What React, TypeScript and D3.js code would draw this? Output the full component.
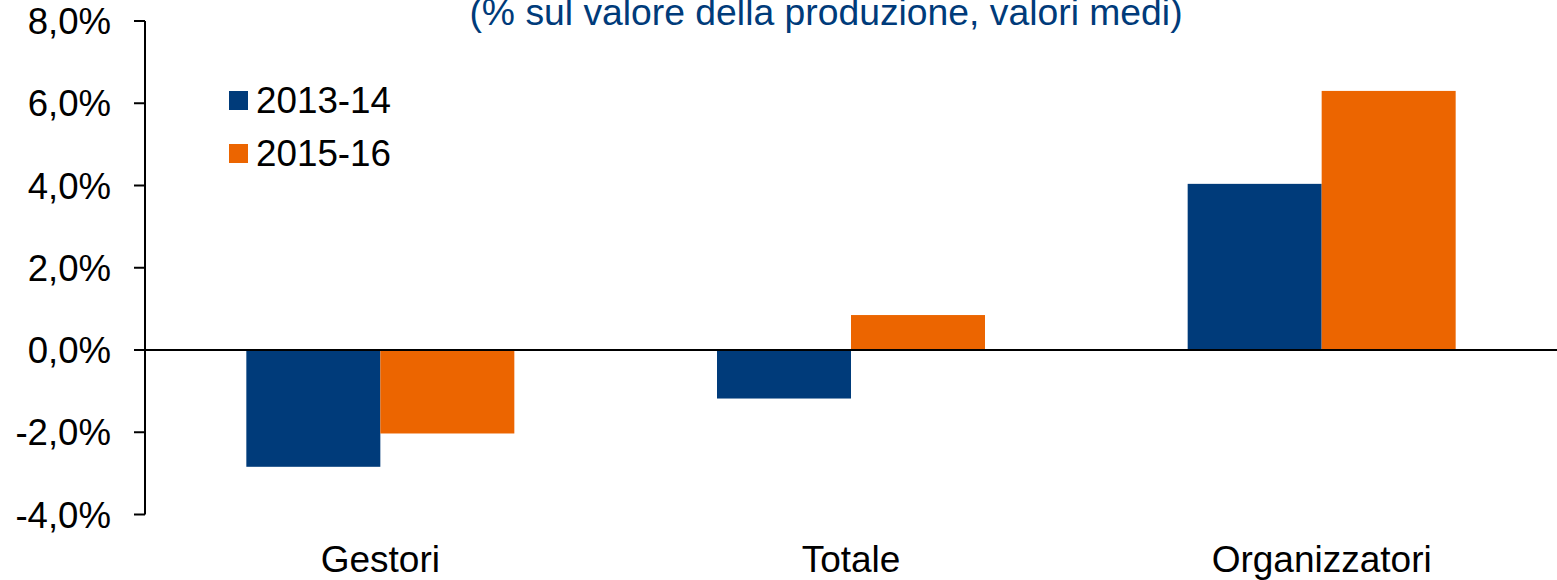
import React from 'react';
import * as d3 from 'd3';

const categories = ['Gestori', 'Totale', 'Organizzatori'];
const seriesNames = ['2013-14', '2015-16'];
const values2013 = [-2.84, -1.18, 4.04];
const values2015 = [-2.03, 0.85, 6.3];
const yTicks = [-4, -2, 0, 2, 4, 6, 8];
const colors = ['#003B7A', '#EC6500'];
const title = '(% sul valore della produzione, valori medi)';

const W = 1557;
const H = 580;
const FONT = '"Liberation Sans", Arial, sans-serif';

const App: React.FC = () => {
  const left = 145;
  const y = d3.scaleLinear().domain([-4, 8]).range([514.5, 21]);
  const x0 = d3
    .scaleBand<string>()
    .domain(categories)
    .range([left, W])
    .paddingInner(0.4306)
    .paddingOuter(0.2153);
  const x1 = d3.scaleBand<string>().domain(seriesNames).range([0, x0.bandwidth()]);
  const series = [values2013, values2015];
  const fmt = (v: number) => d3.format('.1f')(v).replace('.', ',').replace('−', '-') + '%';

  return (
    <svg
      width={W}
      height={H}
      style={{ position: 'absolute', left: 0, top: 0, background: '#fff' }}
      fontFamily={FONT}
    >
      <text x={826} y={25} textAnchor="middle" fontSize={37.3} fill="#003B7A">
        {title}
      </text>

      {/* bars */}
      {categories.map((c, ci) =>
        seriesNames.map((s, si) => {
          const v = series[si][ci];
          return (
            <rect
              key={c + s}
              x={(x0(c) ?? 0) + (x1(s) ?? 0)}
              y={y(Math.max(0, v))}
              width={x1.bandwidth()}
              height={Math.abs(y(v) - y(0))}
              fill={colors[si]}
            />
          );
        })
      )}

      {/* y axis */}
      <line x1={left} x2={left} y1={y(8)} y2={y(-4)} stroke="#000" strokeWidth={2} />
      {yTicks.map((t) => (
        <g key={t}>
          <line x1={left - 11} x2={left} y1={y(t)} y2={y(t)} stroke="#000" strokeWidth={2} />
          <text x={111} y={y(t) + 13} textAnchor="end" fontSize={36.6} fill="#000">
            {fmt(t)}
          </text>
        </g>
      ))}
      <line x1={left} x2={W} y1={y(0)} y2={y(0)} stroke="#000" strokeWidth={2} />

      {/* category labels */}
      {categories.map((c) => (
        <text
          key={c}
          x={(x0(c) ?? 0) + x0.bandwidth() / 2}
          y={572}
          textAnchor="middle"
          fontSize={37}
          fill="#000"
        >
          {c}
        </text>
      ))}

      {/* legend */}
      {seriesNames.map((s, i) => (
        <g key={s} transform={`translate(229, ${91 + i * 53})`}>
          <rect width={19} height={19} fill={colors[i]} />
          <text x={27} y={22} fontSize={36.8} fill="#000">
            {s}
          </text>
        </g>
      ))}
    </svg>
  );
};

export default App;
